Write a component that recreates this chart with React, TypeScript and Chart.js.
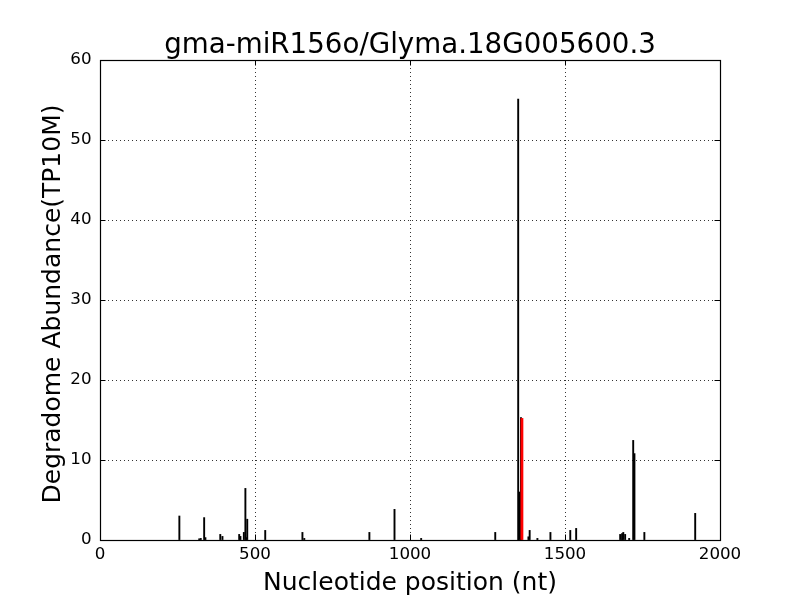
import React, { useEffect, useRef } from "react";
import { Chart, registerables } from "chart.js";

Chart.register(...registerables);

const titleText = "gma-miR156o/Glyma.18G005600.3";
const xLabel = "Nucleotide position (nt)";
const yLabel = "Degradome Abundance(TP10M)";

const positions = [
  256, 320, 325, 336, 340, 388, 395, 449, 453, 464, 469, 472, 475, 533, 653, 659,
  869, 950, 1036, 1275, 1349, 1353, 1358, 1382, 1386, 1411, 1453, 1517, 1536,
  1678, 1684, 1688, 1694, 1707, 1720, 1724, 1756, 1920,
];
const values = [
  3.0, 0.15, 0.2, 2.8, 0.3, 0.7, 0.45, 0.7, 0.45, 0.95, 6.45, 0.3, 2.6, 1.2, 0.95, 0.2,
  0.95, 3.83, 0.2, 0.95, 55.1, 6.0, 15.3, 0.4, 1.2, 0.2, 0.95, 1.2, 1.45,
  0.7, 0.8, 0.95, 0.7, 0.2, 12.45, 10.8, 0.95, 3.33,
];
const targetPositions = [1361];
const targetValues = [15.2];

const xMin = 0;
const xMax = 2000;
const xStep = 500;
const yMin = 0;
const yMax = 60;
const yStep = 10;

const FONT = "DejaVu Sans";

const framePlugin = {
  id: "frame",
  afterDatasetsDraw(chart: any) {
    const { ctx, chartArea, scales } = chart;
    const { left, right, top, bottom } = chartArea;
    const x = scales.x;
    const y = scales.y;
    const L = 5.5;
    ctx.save();
    ctx.strokeStyle = "#000";
    ctx.lineWidth = 1;
    ctx.beginPath();
    x.ticks.forEach((t: any) => {
      const px = Math.round(x.getPixelForValue(t.value)) + 0.5;
      ctx.moveTo(px, bottom);
      ctx.lineTo(px, bottom - L);
      ctx.moveTo(px, top);
      ctx.lineTo(px, top + L);
    });
    y.ticks.forEach((t: any) => {
      const py = Math.round(y.getPixelForValue(t.value)) + 0.5;
      ctx.moveTo(left, py);
      ctx.lineTo(left + L, py);
      ctx.moveTo(right, py);
      ctx.lineTo(right - L, py);
    });
    ctx.stroke();
    ctx.lineWidth = 1.2;
    ctx.strokeRect(Math.round(left) + 0.5, Math.round(top) + 0.5, Math.round(right - left), Math.round(bottom - top));

    // title
    ctx.fillStyle = "#000";
    ctx.font = `27.7px "${FONT}"`;
    ctx.textAlign = "center";
    ctx.textBaseline = "alphabetic";
    ctx.fillText(titleText, (left + right) / 2, 53);

    // y axis label
    ctx.save();
    ctx.translate(53, (top + bottom) / 2 + 4);
    ctx.rotate(-Math.PI / 2);
    ctx.font = `25px "${FONT}"`;
    ctx.textAlign = "center";
    ctx.textBaseline = "middle";
    ctx.fillText(yLabel, 0, 0);
    ctx.restore();

    ctx.restore();
  },
};

export default function App() {
  const ref = useRef<HTMLCanvasElement | null>(null);

  useEffect(() => {
    if (!ref.current) return;
    const chart = new Chart(ref.current, {
      type: "bar",
      data: {
        datasets: [
          {
            label: "target",
            data: targetPositions.map((p, i) => ({ x: p, y: targetValues[i] })),
            backgroundColor: "#ff0000",
            barThickness: 2.2,
            grouped: false,
            borderWidth: 0,
            order: 0,
          } as any,
          {
            label: "reads",
            data: positions.map((p, i) => ({ x: p, y: values[i] })),
            backgroundColor: "#000000",
            barThickness: 1.25,
            grouped: false,
            borderWidth: 0,
            order: 1,
          } as any,
        ],
      },
      options: {
        animation: false,
        responsive: false,
        maintainAspectRatio: false,
        layout: { padding: { left: 0, right: 80, top: 60, bottom: 0 } },
        plugins: {
          legend: { display: false },
          tooltip: { enabled: false },
          title: { display: false },
        },
        scales: {
          x: {
            type: "linear",
            min: xMin,
            max: xMax,
            offset: false,
            afterFit: (s: any) => {
              s.height = 60;
            },
            ticks: {
              stepSize: xStep,
              color: "#000",
              font: { family: FONT, size: 16.7 },
              padding: 5,
              maxRotation: 0,
              callback: (v: any) => String(v),
            },
            grid: {
              color: "#000",
              lineWidth: 0.8,
              drawTicks: false,
              offset: false,
            },
            border: { display: false, dash: [1, 3] },
            title: {
              display: true,
              text: xLabel,
              color: "#000",
              font: { family: FONT, size: 25 },
              padding: { top: 0, bottom: 2 },
            },
          },
          y: {
            type: "linear",
            min: yMin,
            max: yMax,
            afterFit: (s: any) => {
              s.width = 100;
            },
            ticks: {
              stepSize: yStep,
              color: "#000",
              font: { family: FONT, size: 16.7 },
              padding: 8.5,
              callback: (v: any) => String(v),
            },
            grid: {
              color: "#000",
              lineWidth: 0.8,
              drawTicks: false,
            },
            border: { display: false, dash: [1, 3] },
            title: { display: false },
          },
        },
      },
      plugins: [framePlugin],
    });
    return () => chart.destroy();
  }, []);

  return (
    <div style={{ position: "absolute", left: 0, top: 0, width: 800, height: 600, background: "#fff" }}>
      <canvas ref={ref} width={800} height={600} style={{ width: 800, height: 600 }} />
    </div>
  );
}
